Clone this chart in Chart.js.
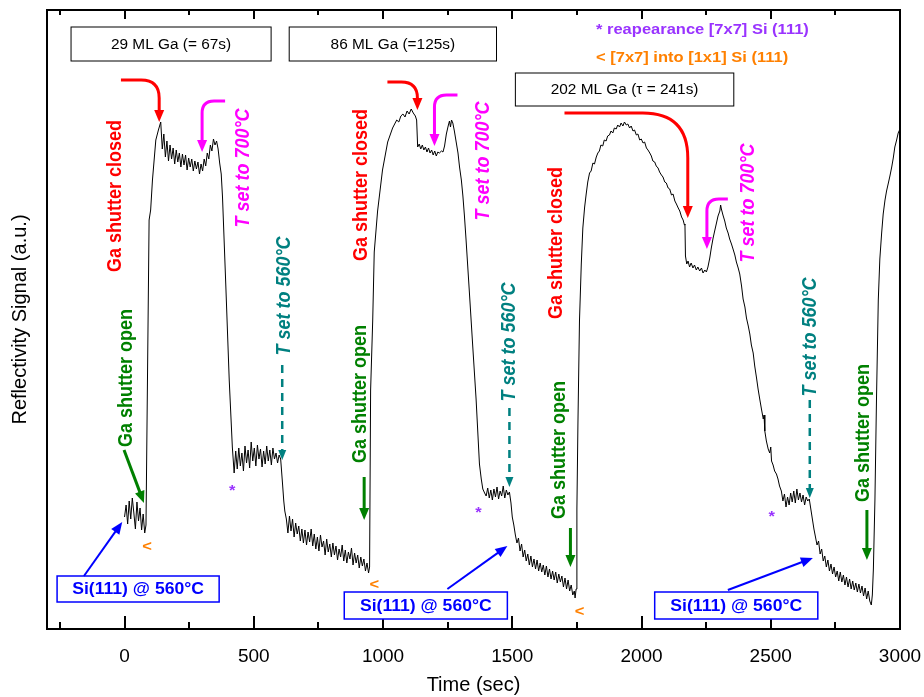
<!DOCTYPE html>
<html>
<head>
<meta charset="utf-8">
<script src="https://cdn.jsdelivr.net/npm/chart.js@4.4.1/dist/chart.umd.min.js"></script>
<style>
  html, body { margin: 0; padding: 0; background: #fff; }
</style>
</head>
<body>
<canvas id="myChart" width="924" height="697"></canvas>
<script>
// reflectivity trace (time in s, signal in a.u.)
const run1Time = [
    0, 6, 12, 18, 24, 30, 36, 42, 48, 54,
    60, 66, 72, 78, 83, 95, 101, 108, 121, 131,
    140, 146, 152, 158, 164, 170, 176, 182, 188, 194,
    200, 206, 212, 218, 224, 230, 236, 242, 248, 254,
    260, 266, 272, 278, 284, 290, 296, 302, 308, 314,
    320, 326, 332, 338, 344, 350, 356, 362, 368, 374,
    379, 392, 405, 417, 424, 430, 436, 442, 448, 454,
    460, 466, 472, 478, 484, 490, 496, 502, 508, 514,
    520, 526, 532, 538, 544, 550, 556, 562, 568, 574,
    580, 586, 592, 598, 604, 611, 616, 620, 626, 632,
    638, 644, 650, 656, 662, 668, 674, 680, 686, 692,
    698, 704, 710, 716, 722, 728, 734, 740, 746, 752,
    758, 764, 770, 776, 782, 788, 794, 800, 806, 812,
    818, 824, 830, 836, 842, 848, 854, 860, 866, 872,
    878, 884, 890, 896, 902, 908, 914, 920, 926, 932,
    938, 944, 948,
];
const run1Signal = [
    112, 124, 105, 128, 110, 131, 116, 100, 127, 108,
    121, 99, 115, 96, 104, 409, 419, 449, 489, 499,
    507, 480, 495, 472, 488, 468, 484, 470, 481, 465,
    479, 467, 476, 462, 475, 464, 474, 459, 471, 462,
    470, 458, 468, 460, 467, 455, 465, 458, 470, 463,
    476, 470, 484, 478, 490, 484, 488, 480, 466, 455,
    432, 342, 249, 182, 156, 178, 160, 181, 163, 176,
    158, 183, 166, 179, 161, 187, 168, 181, 163, 184,
    170, 180, 162, 178, 165, 183, 168, 179, 164, 181,
    170, 176, 166, 174, 170, 146, 128, 118, 110, 96,
    113, 98, 110, 92, 106, 95, 103, 88, 100, 86,
    99, 84, 97, 87, 100, 83, 95, 80, 92, 78,
    94, 82, 88, 74, 90, 77, 85, 72, 86, 74,
    83, 69, 80, 72, 84, 68, 79, 66, 77, 70,
    81, 64, 76, 66, 74, 61, 72, 63, 70, 58,
    66, 56, 62,
];
const run2Time = [
    952, 960, 966, 979, 998, 1018, 1037, 1045, 1053, 1061,
    1069, 1077, 1085, 1093, 1101, 1109, 1117, 1125, 1130, 1134,
    1140, 1146, 1152, 1158, 1164, 1170, 1176, 1182, 1188, 1194,
    1200, 1206, 1212, 1218, 1226, 1232, 1238, 1245, 1252, 1257,
    1261, 1265, 1270, 1276, 1283, 1290, 1296, 1303, 1309, 1315,
    1321, 1334, 1347, 1360, 1373, 1380, 1386, 1393, 1399, 1405,
    1411, 1417, 1423, 1429, 1435, 1441, 1447, 1453, 1459, 1465,
    1471, 1477, 1483, 1489, 1495, 1500, 1506, 1512, 1518, 1524,
    1530, 1536, 1542, 1548, 1554, 1560, 1566, 1572, 1578, 1584,
    1590, 1596, 1602, 1608, 1614, 1620, 1626, 1632, 1638, 1644,
    1650, 1656, 1662, 1668, 1674, 1680, 1686, 1692, 1698, 1704,
    1710, 1716, 1722, 1728, 1734, 1740, 1743,
];
const run2Signal = [
    239, 308, 377, 418, 459, 487, 501, 505, 509, 507,
    513, 515, 512, 518, 515, 520, 516, 513, 509, 482,
    485, 480, 484, 479, 482, 477, 481, 476, 479, 474,
    478, 473, 477, 476, 478, 477, 483, 495, 503, 508,
    502, 509, 506, 498, 487, 476, 462, 449, 433, 413,
    390, 337, 283, 230, 165, 150, 140, 136, 133, 141,
    131, 139, 129, 140, 132, 142, 130, 138, 133, 143,
    131, 139, 134, 137, 126, 112, 104, 94, 86, 91,
    78, 85, 72, 79, 68, 75, 64, 73, 62, 70,
    60, 69, 58, 66, 57, 64, 54, 63, 52, 60,
    50, 58, 49, 57, 46, 55, 47, 53, 42, 51,
    40, 49, 38, 44, 34, 38, 31,
];
const run3Time = [
    1747, 1750, 1754, 1760, 1767, 1773, 1780, 1786, 1792, 1799,
    1805, 1812, 1818, 1825, 1831, 1837, 1843, 1850, 1856, 1863,
    1869, 1876, 1882, 1889, 1895, 1902, 1908, 1915, 1921, 1928,
    1934, 1941, 1947, 1954, 1960, 1967, 1973, 1980, 1986, 1993,
    1999, 2006, 2012, 2019, 2025, 2032, 2038, 2044, 2051, 2057,
    2064, 2070, 2077, 2083, 2090, 2096, 2103, 2109, 2116, 2122,
    2129, 2135, 2142, 2148, 2155, 2161, 2166, 2168, 2170, 2175,
    2180, 2186, 2192, 2199, 2205, 2212, 2218, 2225, 2232, 2238,
    2245, 2251, 2257, 2264, 2270, 2277, 2283, 2290, 2296, 2303,
    2306, 2309, 2315, 2322, 2328, 2335, 2341, 2348, 2354, 2361,
    2367, 2374, 2380, 2387, 2393, 2400, 2406, 2413, 2419, 2425,
    2432, 2438, 2445, 2451, 2458, 2464, 2471, 2474, 2477, 2483,
    2490, 2496, 2500, 2503, 2509, 2515, 2522, 2528, 2534, 2541,
    2547, 2553, 2559, 2565, 2571, 2577, 2583, 2589, 2595, 2601,
    2607, 2613, 2619, 2625, 2631, 2637, 2643, 2649, 2655, 2661,
    2667, 2673, 2679, 2685, 2691, 2697, 2703, 2709, 2715, 2721,
    2727, 2733, 2739, 2745, 2751, 2757, 2763, 2769, 2775, 2781,
    2787, 2793, 2799, 2805, 2811, 2817, 2823, 2829, 2835, 2841,
    2847, 2853, 2859, 2865, 2871, 2877, 2883, 2889, 2893, 2897,
    2903, 2909, 2916, 2922, 2929, 2935, 2942, 2948, 2955, 2961,
    2968, 2974, 2980, 2987, 2993, 3000,
];
const run3Signal = [
    40, 120, 205, 308, 365, 401, 422, 435, 447, 456,
    458, 466, 465, 472, 476, 478, 484, 483, 489, 488,
    493, 494, 498, 496, 501, 500, 504, 502, 506, 503,
    507, 504, 505, 501, 503, 498, 499, 494, 495, 489,
    490, 486, 487, 481, 479, 476, 473, 468, 467, 463,
    461, 457, 454, 452, 447, 446, 441, 440, 434, 435,
    428, 425, 421, 418, 412, 409, 404, 405, 373, 365,
    368, 362, 366, 361, 364, 359, 362, 358, 361, 356,
    359, 357, 362, 371, 381, 391, 398, 406, 413, 418,
    424, 420, 414, 408, 401, 396, 390, 385, 380, 374,
    367, 361, 355, 343, 330, 322, 311, 303, 295, 284,
    276, 263, 251, 240, 229, 220, 210, 214, 198, 188,
    180, 176, 182, 168, 164, 158, 155, 150, 143, 138,
    128, 135, 122, 132, 124, 136, 127, 138, 126, 140,
    129, 136, 127, 134, 124, 132, 128, 130, 120, 110,
    100, 92, 84, 88, 75, 80, 68, 73, 62, 69,
    58, 65, 55, 62, 52, 58, 48, 57, 47, 54,
    44, 52, 42, 50, 40, 48, 39, 46, 37, 45,
    36, 43, 33, 41, 30, 38, 28, 24, 34, 60,
    129, 229, 329, 370, 396, 415, 429, 438, 446, 453,
    462, 471, 482, 489, 496, 500,
];

const xTicks = [0, 500, 1000, 1500, 2000, 2500, 3000];
const xMinorTicks = [-250, 250, 750, 1250, 1750, 2250, 2750];

const timeSec = run1Time.concat(run2Time, run3Time);
const signalAU = run1Signal.concat(run2Signal, run3Signal);
const points = timeSec.map((t, i) => ({ x: t, y: signalAU[i] }));

const FONT = '"Liberation Sans", Arial, sans-serif';
const RED = '#ff0000', GREEN = '#008000', MAGENTA = '#ff00ff', TEAL = '#008080';
const BLUE = '#0000ff', PURPLE = '#9933ff', ORANGE = '#ff8000';
const SX = 1.1; // the original image is a bit wider than tall

// annotations, placed in data units (time s, signal a.u.)
const rotatedNotes = [
    { text: 'Ga shutter closed', t: -33, v: 433, color: RED, italic: false },
    { text: 'Ga shutter open', t: 6, v: 251, color: GREEN, italic: false },
    { text: 'T set to 700°C', t: 459, v: 461, color: MAGENTA, italic: true },
    { text: 'T set to 560°C', t: 618, v: 333, color: TEAL, italic: true },
    { text: 'Ga shutter closed', t: 916, v: 444, color: RED, italic: false },
    { text: 'Ga shutter open', t: 912, v: 235, color: GREEN, italic: false },
    { text: 'T set to 700°C', t: 1389, v: 468, color: MAGENTA, italic: true },
    { text: 'T set to 560°C', t: 1489, v: 287, color: TEAL, italic: true },
    { text: 'Ga shutter closed', t: 1671, v: 386, color: RED, italic: false },
    { text: 'Ga shutter open', t: 1683, v: 179, color: GREEN, italic: false },
    { text: 'T set to 700°C', t: 2415, v: 426, color: MAGENTA, italic: true },
    { text: 'T set to 560°C', t: 2655, v: 292, color: TEAL, italic: true },
    { text: 'Ga shutter open', t: 2860, v: 196, color: GREEN, italic: false },
];
const straightArrows = [
    { t1: -2, v1: 179, t2: 75, v2: 126, color: GREEN, w: 3 },
    { t1: 927, v1: 152, t2: 927, v2: 109, color: GREEN, w: 3 },
    { t1: 1725, v1: 101, t2: 1725, v2: 62, color: GREEN, w: 3 },
    { t1: 2872, v1: 119, t2: 2872, v2: 69, color: GREEN, w: 3 },
    { t1: -157, v1: 53, t2: -9, v2: 107, color: BLUE, w: 2 },
    { t1: 1249, v1: 40, t2: 1481, v2: 83, color: BLUE, w: 2 },
    { t1: 2334, v1: 39, t2: 2663, v2: 71, color: BLUE, w: 2 },
];
const dashedArrows = [
    { t: 610, v1: 264, v2: 169 },
    { t: 1489, v1: 221, v2: 142 },
    { t: 2651, v1: 229, v2: 131 },
];
// start point, corner, end of the bent arrows
const bentArrows = [
    { t0: -14, v0: 549, tc: 134, vc: 549, v2: 507, r: 18, color: RED },
    { t0: 389, v0: 528, tc: 300, vc: 528, v2: 477, r: 12, color: MAGENTA },
    { t0: 1017, v0: 547, tc: 1133, vc: 547, v2: 519, r: 16, color: RED },
    { t0: 1288, v0: 534, tc: 1199, vc: 534, v2: 483, r: 12, color: MAGENTA },
    { t0: 1702, v0: 516, tc: 2179, vc: 516, v2: 411, r: 45, color: RED },
    { t0: 2334, v0: 430, tc: 2253, vc: 430, v2: 380, r: 12, color: MAGENTA },
];
const textBoxes = [
    { text: '29 ML Ga (= 67s)', t1: -207, t2: 567, v1: 602, v2: 568, color: '#000', bold: false, size: 14 },
    { text: '86 ML Ga (=125s)', t1: 637, t2: 1439, v1: 602, v2: 568, color: '#000', bold: false, size: 14 },
    { text: '202 ML Ga (τ = 241s)', t1: 1512, t2: 2357, v1: 556, v2: 523, color: '#000', bold: false, size: 14 },
    { text: 'Si(111) @ 560°C', t1: -261, t2: 366, v1: 53, v2: 27, color: BLUE, bold: true, size: 16 },
    { text: 'Si(111) @ 560°C', t1: 850, t2: 1481, v1: 37, v2: 10, color: BLUE, bold: true, size: 16 },
    { text: 'Si(111) @ 560°C', t1: 2051, t2: 2682, v1: 37, v2: 10, color: BLUE, bold: true, size: 16 },
];
const keyLines = [
    { text: '* reapearance [7x7] Si (111)', t: 1824, v: 599, color: PURPLE },
    { text: '< [7x7] into [1x1] Si (111)', t: 1824, v: 571, color: ORANGE },
];
const markers = [
    { text: '*', t: 417, v: 138, color: PURPLE },
    { text: '*', t: 1369, v: 116, color: PURPLE },
    { text: '*', t: 2504, v: 112, color: PURPLE },
    { text: '<', t: 87, v: 82, color: ORANGE },
    { text: '<', t: 966, v: 44, color: ORANGE },
    { text: '<', t: 1760, v: 17, color: ORANGE },
];

function drawText(ctx, str, x, y, font, color, align, rotate) {
    ctx.save();
    ctx.translate(x, y);
    ctx.scale(SX, 1);
    if (rotate) ctx.rotate(-Math.PI / 2);
    ctx.font = font;
    ctx.fillStyle = color;
    ctx.textAlign = align;
    ctx.textBaseline = 'middle';
    ctx.fillText(str, 0, 0);
    ctx.restore();
}

function head(ctx, x1, y1, x2, y2, len, half) {
    const a = Math.atan2(y2 - y1, x2 - x1);
    const bx = x2 - len * Math.cos(a), by = y2 - len * Math.sin(a);
    ctx.beginPath();
    ctx.moveTo(x2, y2);
    ctx.lineTo(bx + half * Math.sin(a), by - half * Math.cos(a));
    ctx.lineTo(bx - half * Math.sin(a), by + half * Math.cos(a));
    ctx.closePath();
    ctx.fill();
}

const inkPlugin = {
    id: 'ink',
    afterDatasetsDraw(chart) {
        const { ctx, chartArea: a, scales: { x, y } } = chart;
        const X = t => x.getPixelForValue(t);
        const Y = v => y.getPixelForValue(v);
        ctx.save();

        // frame and inward ticks
        ctx.strokeStyle = '#000';
        ctx.lineWidth = 2;
        ctx.strokeRect(a.left, a.top, a.width, a.height);
        ctx.beginPath();
        xTicks.forEach(t => {
            const px = Math.round(X(t));
            ctx.moveTo(px, a.bottom); ctx.lineTo(px, a.bottom - 13);
            ctx.moveTo(px, a.top); ctx.lineTo(px, a.top + 9);
        });
        xMinorTicks.forEach(t => {
            const px = Math.round(X(t));
            ctx.moveTo(px, a.bottom); ctx.lineTo(px, a.bottom - 7);
            ctx.moveTo(px, a.top); ctx.lineTo(px, a.top + 5);
        });
        ctx.stroke();

        // boxes with labels
        textBoxes.forEach(b => {
            const x1 = X(b.t1), x2 = X(b.t2), y1 = Y(b.v1), y2 = Y(b.v2);
            ctx.fillStyle = '#fff';
            ctx.fillRect(x1, y1, x2 - x1, y2 - y1);
            ctx.strokeStyle = b.color;
            ctx.lineWidth = b.bold ? 1.5 : 1;
            ctx.strokeRect(x1, y1, x2 - x1, y2 - y1);
            drawText(ctx, b.text, (x1 + x2) / 2, (y1 + y2) / 2 + 1,
                (b.bold ? 'bold ' : '') + b.size + 'px ' + FONT, b.color, 'center', false);
        });

        // vertical labels
        rotatedNotes.forEach(n => {
            drawText(ctx, n.text, X(n.t), Y(n.v),
                (n.italic ? 'italic bold ' : 'bold ') + '18px ' + FONT, n.color, 'center', true);
        });

        // straight arrows
        straightArrows.forEach(s => {
            const x1 = X(s.t1), y1 = Y(s.v1), x2 = X(s.t2), y2 = Y(s.v2);
            const a2 = Math.atan2(y2 - y1, x2 - x1);
            ctx.strokeStyle = s.color;
            ctx.fillStyle = s.color;
            ctx.lineWidth = s.w;
            ctx.beginPath();
            ctx.moveTo(x1, y1);
            ctx.lineTo(x2 - 10 * Math.cos(a2), y2 - 10 * Math.sin(a2));
            ctx.stroke();
            head(ctx, x1, y1, x2, y2, 12, 5);
        });

        // dashed temperature arrows
        dashedArrows.forEach(d => {
            const px = X(d.t), y1 = Y(d.v1), y2 = Y(d.v2);
            ctx.strokeStyle = TEAL;
            ctx.fillStyle = TEAL;
            ctx.lineWidth = 2.5;
            ctx.setLineDash([8, 6]);
            ctx.beginPath();
            ctx.moveTo(px, y1);
            ctx.lineTo(px, y2 - 8);
            ctx.stroke();
            ctx.setLineDash([]);
            head(ctx, px, y1, px, y2, 10, 4);
        });

        // bent arrows
        bentArrows.forEach(b => {
            const x0 = X(b.t0), y0 = Y(b.v0), xc = X(b.tc), yc = Y(b.vc), y2 = Y(b.v2);
            const dir = xc > x0 ? 1 : -1;
            ctx.strokeStyle = b.color;
            ctx.fillStyle = b.color;
            ctx.lineWidth = 3;
            ctx.beginPath();
            ctx.moveTo(x0, y0);
            ctx.lineTo(xc - dir * b.r, yc);
            ctx.quadraticCurveTo(xc, yc, xc, yc + b.r);
            ctx.lineTo(xc, y2 - 10);
            ctx.stroke();
            head(ctx, xc, yc, xc, y2, 12, 5);
        });

        // key and markers
        keyLines.forEach(k => {
            drawText(ctx, k.text, X(k.t), Y(k.v), 'bold 15px ' + FONT, k.color, 'left', false);
        });
        markers.forEach(m => {
            drawText(ctx, m.text, X(m.t), Y(m.v), 'bold 15px ' + FONT, m.color, 'center', false);
        });

        ctx.restore();
    },
};

const config = {
    type: 'line',
    data: {
        datasets: [
            {
                data: points,
                borderColor: '#000',
                borderWidth: 1,
                pointRadius: 0,
                tension: 0,
                fill: false,
            },
        ],
    },
    options: {
        responsive: false,
        animation: false,
        devicePixelRatio: 1,
        layout: { padding: { top: 10, right: 24, left: 0, bottom: 0 } },
        plugins: {
            legend: { display: false },
            tooltip: { enabled: false },
        },
        scales: {
            x: {
                type: 'linear',
                min: -300,
                max: 3000,
                afterBuildTicks: s => { s.ticks = xTicks.map(v => ({ value: v })); },
                afterFit: s => {
                    s.height = 68;
                    s.paddingLeft = 0;
                    s.paddingRight = 0;
                },
                grid: { display: false, drawTicks: false },
                border: { display: false },
                ticks: {
                    padding: 16,
                    color: '#000',
                    maxRotation: 0,
                    font: { family: FONT, size: 19 },
                    callback: v => String(v),
                },
                title: {
                    display: true,
                    text: 'Time (sec)',
                    color: '#000',
                    font: { family: FONT, size: 20 },
                    padding: 0,
                },
            },
            y: {
                min: 0,
                max: 619,
                afterFit: s => { s.width = 47; },
                grid: { display: false, drawTicks: false },
                border: { display: false },
                ticks: { display: false },
                title: {
                    display: true,
                    text: 'Reflectivity Signal (a.u.)',
                    color: '#000',
                    font: { family: FONT, size: 20 },
                    padding: { top: 8, bottom: 0 },
                },
            },
        },
    },
    plugins: [inkPlugin],
};

var myChart = new Chart(document.getElementById('myChart'), config);
</script>
</body>
</html>
